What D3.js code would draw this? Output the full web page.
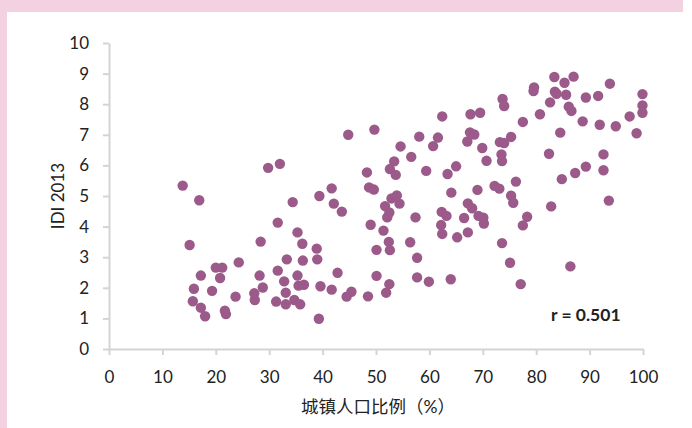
<!DOCTYPE html>
<html>
<head>
<meta charset="utf-8">
<script src="https://cdn.jsdelivr.net/npm/d3@7"></script>
<style>
    html, body { margin: 0; padding: 0; background: #fff; }
    #chart { width: 692px; height: 428px; }
    text { font-family: Lato, "Noto Sans", "Noto Sans CJK SC", sans-serif; }
</style>
</head>
<body>
<div id="chart"></div>
<script>
// Städtischer Bevölkerungsanteil (%) je Land
const urbanPct = [
    44.8, 29.8, 32.0, 13.8, 16.9, 34.4, 39.4, 41.7, 42.1, 43.6,
    31.6, 35.3, 36.2, 38.9, 39.0, 28.4, 15.1, 33.3, 36.3, 24.3,
    20.0, 21.2, 20.8, 17.2, 15.9, 19.3, 15.7, 17.2, 18.0, 21.7,
    21.9, 23.7, 27.2, 27.3, 28.2, 28.8, 31.6, 32.8, 35.3, 35.5,
    36.5, 33.1, 31.3, 33.1, 34.7, 35.8, 39.3, 39.6, 41.7, 42.8,
    44.5, 45.4,
    49.7, 62.4, 67.7, 69.5, 58.1, 54.6, 61.6, 60.7, 67.6, 68.4,
    67.1, 69.9, 70.7, 56.6, 53.4, 52.6, 53.7, 48.3, 59.4, 63.4,
    65.0, 48.7, 49.6, 64.1, 69.0, 72.2, 73.1, 52.9, 53.9, 54.4,
    51.7, 52.5, 52.1, 49.0, 51.4, 52.4, 52.6, 50.1, 56.4, 57.7,
    57.4, 62.3, 63.2, 62.2, 62.4, 65.2, 66.5, 67.2, 68.0, 69.2,
    70.1, 70.2, 67.2, 73.6, 50.1, 52.5, 51.9, 48.5, 57.7, 59.9,
    64.0,
    83.4, 87.0, 85.3, 93.8, 79.6, 79.5, 83.5, 83.8, 85.6, 73.7,
    74.0, 89.3, 91.6, 99.9, 99.9, 99.9, 82.6, 86.1, 86.6, 80.7,
    77.5, 88.7, 91.9, 94.9, 97.5, 98.8, 84.5, 75.3, 73.2, 74.0,
    73.5, 73.6, 82.4, 92.6, 92.6, 89.3, 87.3, 84.8, 76.2, 75.3,
    75.7, 93.6, 82.8, 78.3, 77.5, 75.1, 86.4, 77.1
];

// IDI 2013 je Land (gleiche Reihenfolge)
const idiValues = [
    7.00, 5.92, 6.05, 5.34, 4.86, 4.80, 5.00, 5.25, 4.75, 4.49,
    4.13, 3.81, 3.44, 3.28, 2.93, 3.51, 3.40, 2.93, 2.89, 2.83,
    2.66, 2.66, 2.32, 2.40, 1.97, 1.90, 1.56, 1.35, 1.07, 1.25,
    1.14, 1.71, 1.82, 1.60, 2.40, 2.01, 2.56, 2.21, 2.40, 2.07,
    2.10, 1.84, 1.55, 1.46, 1.60, 1.46, 0.99, 2.05, 1.94, 2.49,
    1.71, 1.87,
    7.17, 7.60, 7.67, 7.72, 6.94, 6.62, 6.91, 6.63, 7.08, 7.01,
    6.78, 6.57, 6.15, 6.28, 6.13, 5.88, 5.69, 5.77, 5.82, 5.72,
    5.97, 5.28, 5.21, 5.11, 5.20, 5.33, 5.24, 4.92, 5.02, 4.75,
    4.67, 4.46, 4.30, 4.06, 3.87, 3.50, 3.23, 3.24, 3.49, 2.98,
    4.30, 4.48, 4.35, 4.05, 3.76, 3.65, 4.28, 4.76, 4.60, 4.35,
    4.29, 4.10, 3.81, 3.46, 2.39, 2.12, 1.84, 1.72, 2.34, 2.20,
    2.28,
    8.89, 8.90, 8.70, 8.67, 8.55, 8.43, 8.41, 8.34, 8.31, 8.17,
    7.94, 8.22, 8.27, 8.33, 7.96, 7.72, 8.06, 7.92, 7.78, 7.67,
    7.42, 7.44, 7.33, 7.28, 7.60, 7.05, 7.07, 6.93, 6.76, 6.73,
    6.36, 6.14, 6.38, 6.36, 5.84, 5.96, 5.75, 5.55, 5.47, 5.01,
    4.78, 4.85, 4.66, 4.32, 4.04, 2.82, 2.70, 2.12
];

const xTicks = [0, 10, 20, 30, 40, 50, 60, 70, 80, 90, 100];
const yTicks = [0, 1, 2, 3, 4, 5, 6, 7, 8, 9, 10];
const xTitle = "城镇人口比例（%）";
const yTitle = "IDI 2013";
const corrLabel = "r = 0.501";

const width = 692, height = 428;
const margin = { top: 43, right: 49, bottom: 79, left: 109 };

const points = urbanPct.map((u, i) => ({ u, idi: idiValues[i] }));

const svg = d3.select("#chart")
    .append("svg")
    .attr("width", width)
    .attr("height", height);

// rosa Rahmen oben und links
svg.append("rect")
    .attr("x", 0).attr("y", 0)
    .attr("width", 683).attr("height", 12)
    .attr("fill", "#f3d1e1");
svg.append("rect")
    .attr("x", 0).attr("y", 0)
    .attr("width", 7).attr("height", height)
    .attr("fill", "#f3d1e1");

const x = d3.scaleLinear()
    .domain([0, 100])
    .range([margin.left, width - margin.right]);

const y = d3.scaleLinear()
    .domain([0, 10])
    .range([height - margin.bottom, margin.top]);

const axisColor = "#d4d4d4";

const xAxis = g => g
    .attr("transform", `translate(0,${y(0)})`)
    .call(d3.axisBottom(x).tickValues(xTicks).tickSize(6).tickSizeOuter(0).tickPadding(16))
    .call(g => g.select(".domain").attr("stroke", axisColor).attr("stroke-width", 2))
    .call(g => g.selectAll(".tick line").attr("stroke", axisColor).attr("stroke-width", 2))
    .call(g => g.selectAll(".tick text")
        .attr("fill", "#222")
        .style("font-size", "17px"));

const yAxis = g => g
    .attr("transform", `translate(${x(0)},0)`)
    .call(d3.axisLeft(y).tickValues(yTicks).tickSize(6).tickSizeOuter(0).tickPadding(14))
    .call(g => g.select(".domain").attr("stroke", axisColor).attr("stroke-width", 2))
    .call(g => g.selectAll(".tick line").attr("stroke", axisColor).attr("stroke-width", 2))
    .call(g => g.selectAll(".tick text")
        .attr("fill", "#222")
        .style("font-size", "17px"));

svg.append("g").call(xAxis);
svg.append("g").call(yAxis);

// Achsentitel
svg.append("text")
    .attr("x", (x(0) + x(100)) / 2 + 2)
    .attr("y", 413)
    .attr("text-anchor", "middle")
    .attr("fill", "#222")
    .style("font-size", "17.5px")
    .text(xTitle);

svg.append("text")
    .attr("transform", `translate(64,${(y(0) + y(10)) / 2}) rotate(-90)`)
    .attr("text-anchor", "middle")
    .attr("fill", "#222")
    .style("font-size", "17px")
    .text(yTitle);

// Punkte
svg.append("g")
    .selectAll("circle")
    .data(points)
    .enter()
    .append("circle")
    .attr("cx", d => x(d.u))
    .attr("cy", d => y(d.idi))
    .attr("r", 5.2)
    .attr("fill", "#9b5a8a")
    .append("title")
    .text(d => `${d.u}% / IDI ${d.idi}`);

// Korrelationskoeffizient
svg.append("text")
    .attr("x", 551)
    .attr("y", 321)
    .attr("fill", "#222")
    .style("font-size", "17.5px")
    .style("font-weight", "bold")
    .text(corrLabel);
</script>
</body>
</html>
